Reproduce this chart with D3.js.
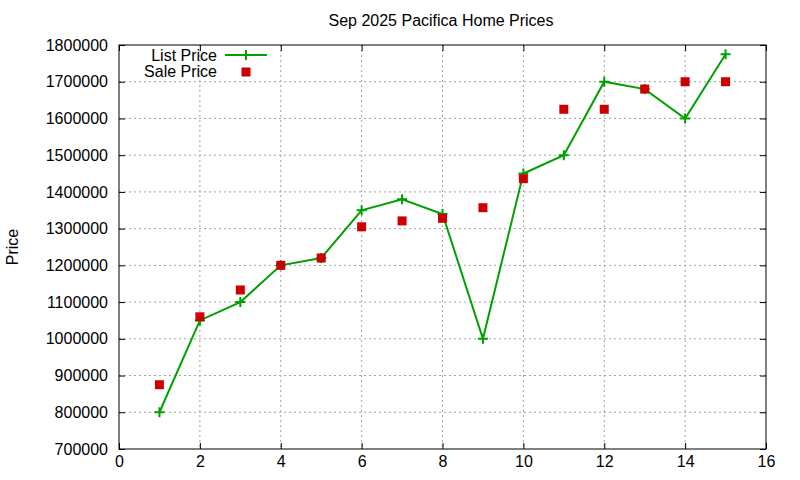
<!DOCTYPE html>
<html>
<head>
<meta charset="utf-8">
<script src="https://cdn.jsdelivr.net/npm/d3@7"></script>
<style>
  body { margin: 0; background: #fff; }
  text { font-family: "Liberation Sans", Arial, sans-serif; }
</style>
</head>
<body>
<div id="chart"></div>
<script>
// data
var months = [1, 2, 3, 4, 5, 6, 7, 8, 9, 10, 11, 12, 13, 14, 15];
var listPrice = [800000, 1050000, 1100000, 1200000, 1220000, 1350000, 1380000, 1340000,
  1000000, 1450000, 1500000, 1700000, 1680000, 1600000, 1775000];
var salePrice = [875000, 1060000, 1133000, 1200000, 1220000, 1305000, 1321000, 1328000,
  1357000, 1436000, 1625000, 1625000, 1680000, 1700000, 1700000];
var xTicks = [0, 2, 4, 6, 8, 10, 12, 14, 16];
var yTicks = [700000, 800000, 900000, 1000000, 1100000, 1200000, 1300000, 1400000,
  1500000, 1600000, 1700000, 1800000];

var width = 800, height = 480;
var margin = {top: 45, right: 34, bottom: 31, left: 119};
var w = width - margin.left - margin.right,
  h = height - margin.top - margin.bottom;

var svg = d3.select('#chart')
  .append('svg')
  .attr('width', width)
  .attr('height', height);

var x = d3.scaleLinear().domain([0, 16]).range([0, w]);
var y = d3.scaleLinear().domain([700000, 1800000]).range([h, 0]);

var g = svg.append('g')
  .attr('transform', 'translate(' + margin.left + ',' + margin.top + ')');

// grid
g.append('g').selectAll('line.gx')
  .data(xTicks.slice(1, -1))
  .enter().append('line')
  .attr('x1', function(d) { return x(d); })
  .attr('x2', function(d) { return x(d); })
  .attr('y1', 0).attr('y2', h)
  .attr('stroke', '#a0a0a0').attr('stroke-width', 1)
  .attr('stroke-dasharray', '2,3');

g.append('g').selectAll('line.gy')
  .data(yTicks.slice(1, -1))
  .enter().append('line')
  .attr('x1', 0).attr('x2', w)
  .attr('y1', function(d) { return y(d); })
  .attr('y2', function(d) { return y(d); })
  .attr('stroke', '#a0a0a0').attr('stroke-width', 1)
  .attr('stroke-dasharray', '2,3');

// axes (gnuplot style: ticks inward, mirrored)
function styleAxis(sel) {
  sel.select('.domain').remove();
  sel.selectAll('.tick line').attr('stroke', '#000');
  sel.selectAll('.tick text')
    .attr('fill', '#000')
    .style('font-size', '16px')
    .style('font-family', '"Liberation Sans", Arial, sans-serif');
}

g.append('g')
  .attr('transform', 'translate(0,' + h + ')')
  .call(d3.axisBottom(x).tickValues(xTicks).tickSizeInner(-6).tickPadding(7).tickFormat(d3.format('d')))
  .call(styleAxis);

g.append('g')
  .call(d3.axisTop(x).tickValues(xTicks).tickSizeInner(-6).tickFormat(''))
  .call(styleAxis);

g.append('g')
  .call(d3.axisLeft(y).tickValues(yTicks).tickSizeInner(-6).tickPadding(11).tickFormat(d3.format('d')))
  .call(styleAxis);

g.append('g')
  .attr('transform', 'translate(' + w + ',0)')
  .call(d3.axisRight(y).tickValues(yTicks).tickSizeInner(-6).tickFormat(''))
  .call(styleAxis);

g.append('rect')
  .attr('x', 0).attr('y', 0).attr('width', w).attr('height', h)
  .attr('fill', 'none').attr('stroke', '#000').attr('stroke-width', 1);

// list price line
var line = d3.line()
  .x(function(d, i) { return x(months[i]); })
  .y(function(d) { return y(d); });

g.append('path')
  .datum(listPrice)
  .attr('d', line)
  .attr('fill', 'none')
  .attr('stroke', '#00a000')
  .attr('stroke-width', 2);

function plus(sel, cx, cy) {
  sel.append('path')
    .attr('d', 'M' + (cx - 5) + ',' + cy + 'H' + (cx + 5) + 'M' + cx + ',' + (cy - 5) + 'V' + (cy + 5))
    .attr('stroke', '#00a000').attr('stroke-width', 2).attr('fill', 'none');
}

var marks = g.append('g');
listPrice.forEach(function(d, i) { plus(marks, x(months[i]), y(d)); });

// sale price squares
g.append('g').selectAll('rect.sale')
  .data(salePrice)
  .enter().append('rect')
  .attr('x', function(d, i) { return x(months[i]) - 4.5; })
  .attr('y', function(d) { return y(d) - 4.5; })
  .attr('width', 9).attr('height', 9)
  .attr('fill', '#cc0000');

// legend
var lg = svg.append('g');
lg.append('text').attr('x', 217).attr('y', 61).attr('text-anchor', 'end')
  .style('font-size', '16px').text('List Price');
lg.append('line').attr('x1', 225).attr('x2', 267).attr('y1', 55).attr('y2', 55)
  .attr('stroke', '#00a000').attr('stroke-width', 2);
plus(lg, 246, 55);
lg.append('text').attr('x', 217).attr('y', 77).attr('text-anchor', 'end')
  .style('font-size', '16px').text('Sale Price');
lg.append('rect').attr('x', 241.5).attr('y', 67.5).attr('width', 9).attr('height', 9)
  .attr('fill', '#cc0000');

// title and y label
svg.append('text').attr('x', 441).attr('y', 26).attr('text-anchor', 'middle')
  .style('font-size', '16px').text('Sep 2025 Pacifica Home Prices');

svg.append('text')
  .attr('transform', 'translate(18,247) rotate(-90)')
  .attr('text-anchor', 'middle')
  .style('font-size', '16px').text('Price');
</script>
</body>
</html>
